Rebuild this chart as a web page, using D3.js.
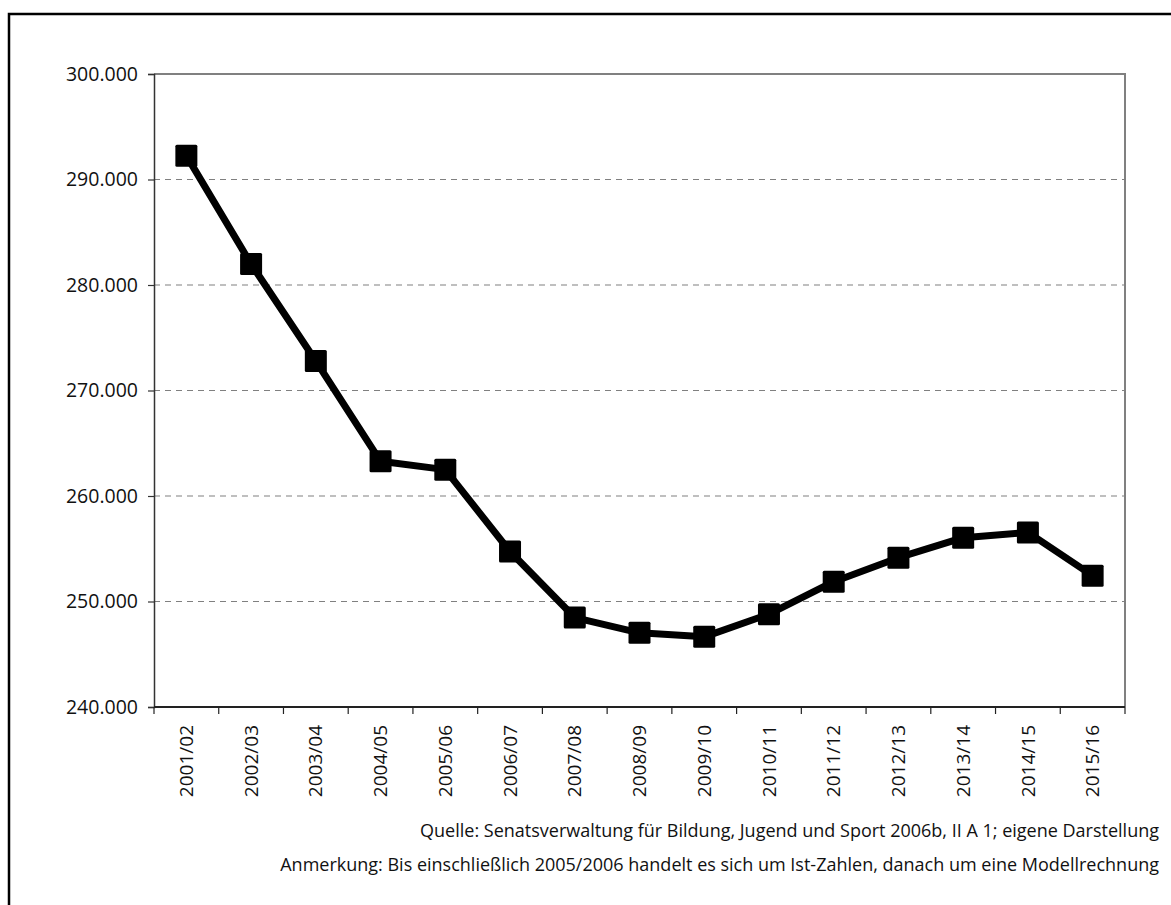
<!DOCTYPE html>
<html>
<head>
<meta charset="utf-8">
<script src="https://cdn.jsdelivr.net/npm/d3@7"></script>
<style>
  html, body { margin: 0; padding: 0; background: #fff; }
  svg { display: block; }
</style>
</head>
<body>
<svg id="chart" width="1171" height="905"></svg>
<script>
// Schuljahre
const years = ["2001/02", "2002/03", "2003/04", "2004/05", "2005/06", "2006/07", "2007/08",
  "2008/09", "2009/10", "2010/11", "2011/12", "2012/13", "2013/14", "2014/15", "2015/16"];
// Schülerzahlen (bis 2005/06 Ist-Zahlen, danach Modellrechnung)
const pupils = [292260, 281990, 272800, 263290, 262500, 254740, 248480,
  247030, 246650, 248800, 251880, 254150, 256050, 256550, 252450];
const yTicks = [240000, 250000, 260000, 270000, 280000, 290000, 300000];
const notes = [
  "Quelle: Senatsverwaltung für Bildung, Jugend und Sport 2006b, II A 1; eigene Darstellung",
  "Anmerkung: Bis einschließlich 2005/2006 handelt es sich um Ist-Zahlen, danach um eine Modellrechnung"
];

const FONT = "'Open Sans', 'Noto Sans', sans-serif";
const svg = d3.select("#chart");
const plot = { left: 154, top: 74, right: 1125, bottom: 707 };

// Rahmen um die gesamte Grafik
svg.append("rect")
  .attr("x", 9).attr("y", 14).attr("width", 1180).attr("height", 910)
  .attr("fill", "none").attr("stroke", "#000").attr("stroke-width", 2.5);

const x = d3.scaleBand().domain(years).range([plot.left, plot.right]).padding(0);
const y = d3.scaleLinear().domain([240000, 300000]).range([plot.bottom, plot.top]);

const fmt = d => d3.format(",")(d).replace(/,/g, ".");

// Hilfslinien
svg.append("g").selectAll("line")
  .data(yTicks.filter(t => t !== 240000 && t !== 300000))
  .join("line")
  .attr("x1", plot.left).attr("x2", plot.right)
  .attr("y1", d => y(d)).attr("y2", d => y(d))
  .attr("stroke", "#808080").attr("stroke-width", 1.2)
  .attr("stroke-dasharray", "6,5");

// Obere und rechte Begrenzung der Zeichenfläche
svg.append("path")
  .attr("d", `M${plot.left},${plot.top}H${plot.right}V${plot.bottom}`)
  .attr("fill", "none").attr("stroke", "#808080").attr("stroke-width", 2);

// y-Achse
const yAxis = svg.append("g")
  .attr("transform", `translate(${plot.left},0)`)
  .call(d3.axisLeft(y).tickValues(yTicks).tickFormat(fmt).tickSize(6).tickPadding(10));
yAxis.attr("font-family", FONT).attr("font-size", 19.5);
yAxis.select(".domain").attr("stroke", "#333").attr("stroke-width", 1.5);
yAxis.selectAll(".tick line").attr("stroke", "#333").attr("stroke-width", 1.2);
yAxis.selectAll(".tick text").attr("fill", "#111");

// x-Achse mit Strichen an den Kategoriegrenzen
const xAxis = svg.append("g")
  .attr("transform", `translate(0,${plot.bottom})`)
  .call(d3.axisBottom(x).tickSize(0).tickPadding(0));
xAxis.attr("font-family", FONT).attr("font-size", 19);
xAxis.select(".domain").remove();
xAxis.append("line")
  .attr("x1", plot.left).attr("x2", plot.right)
  .attr("stroke", "#222").attr("stroke-width", 2);
xAxis.selectAll(".boundary")
  .data(years.concat([null]))
  .join("line")
  .attr("class", "boundary")
  .attr("x1", (d, i) => plot.left + i * x.bandwidth())
  .attr("x2", (d, i) => plot.left + i * x.bandwidth())
  .attr("y1", 0).attr("y2", 7)
  .attr("stroke", "#222").attr("stroke-width", 1.2);
xAxis.selectAll(".tick text")
  .attr("fill", "#111")
  .attr("text-anchor", "end")
  .attr("dy", "0.35em")
  .attr("transform", "translate(0,18) rotate(-90)");

// Linie
const line = d3.line()
  .x((d, i) => x(years[i]) + x.bandwidth() / 2)
  .y(d => y(d));
svg.append("path")
  .datum(pupils)
  .attr("d", line)
  .attr("fill", "none").attr("stroke", "#000").attr("stroke-width", 7)
  .attr("stroke-linejoin", "round");

// Quadratische Marker
const ms = 22;
svg.append("g").selectAll("rect")
  .data(pupils)
  .join("rect")
  .attr("x", (d, i) => x(years[i]) + x.bandwidth() / 2 - ms / 2)
  .attr("y", d => y(d) - ms / 2)
  .attr("width", ms).attr("height", ms)
  .attr("rx", 1.5)
  .attr("fill", "#000");

// Quellenangabe und Anmerkung
svg.append("g").selectAll("text")
  .data(notes)
  .join("text")
  .attr("x", 1159)
  .attr("y", (d, i) => 837 + i * 34)
  .attr("text-anchor", "end")
  .attr("font-family", FONT)
  .attr("font-size", 18)
  .attr("fill", "#111")
  .text(d => d);
</script>
</body>
</html>
